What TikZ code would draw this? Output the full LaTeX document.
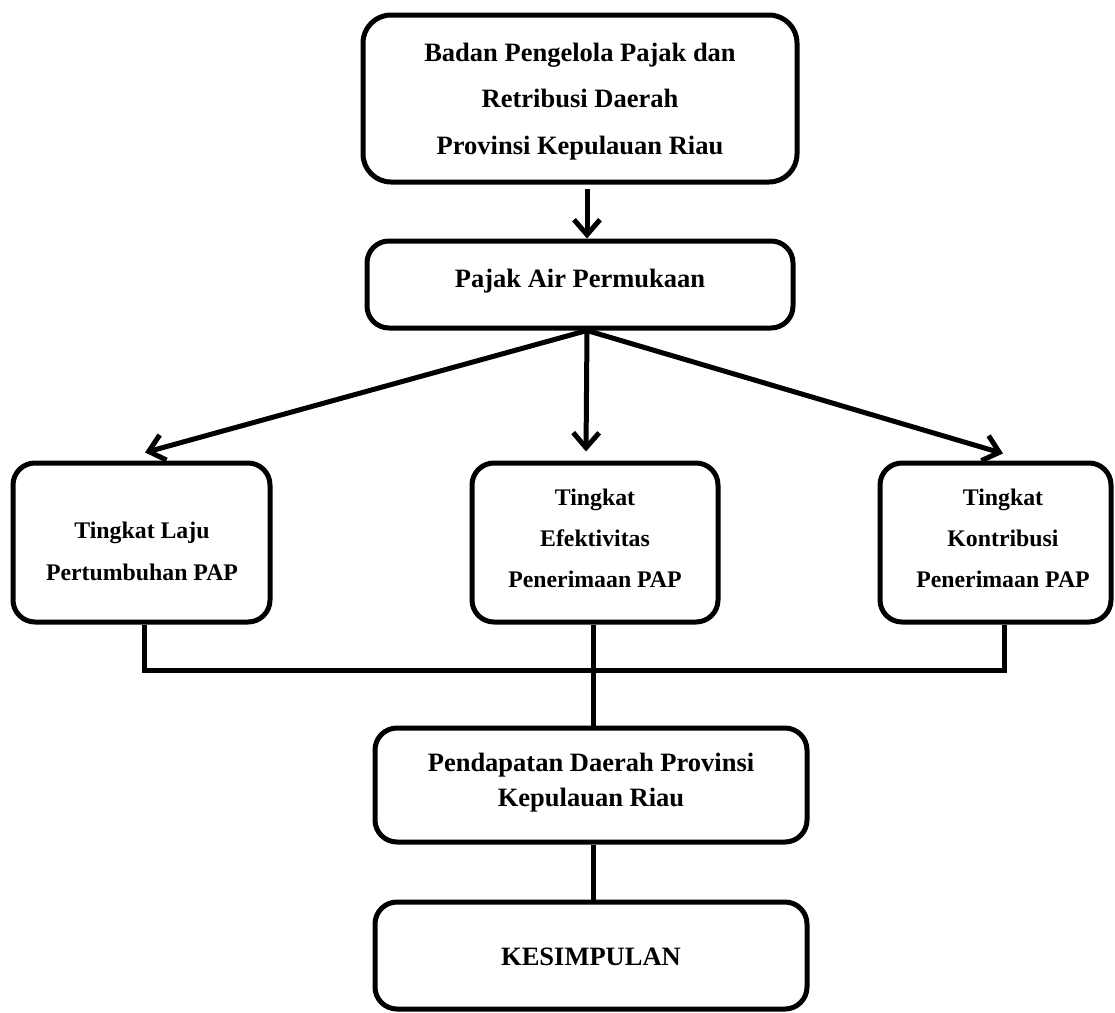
\documentclass[tikz,border=0pt]{standalone}
\usepackage{fontspec}
\setmainfont{Liberation Serif}
\usetikzlibrary{arrows.meta}
\begin{document}
\tikzset{
  box/.style={draw, line width=5pt, rounded corners=22pt, inner sep=0pt},
  big/.style={font=\bfseries\fontsize{26.5}{30}\selectfont, anchor=base, inner sep=0pt},
  small/.style={font=\bfseries\fontsize{23.8}{28}\selectfont, anchor=base, inner sep=0pt},
  arr/.style={line width=5pt, -{Straight Barb[length=15pt,width=26pt]}},
  link/.style={line width=5pt},
}
\begin{tikzpicture}[x=1pt,y=-1pt]
\useasboundingbox (0,0) rectangle (1115,1012);
% boxes
\node[box, rounded corners=28pt, minimum width=434pt, minimum height=167pt] (top) at (580,98.5) {};
\node[box, minimum width=426pt, minimum height=87pt] (pajak) at (580,284.5) {};
\node[box, minimum width=257pt, minimum height=159pt] (lft) at (141.5,542.5) {};
\node[box, minimum width=246pt, minimum height=159pt] (mid) at (595,542.5) {};
\node[box, minimum width=231pt, minimum height=159pt] (rgt) at (995.5,542.5) {};
\node[box, minimum width=432pt, minimum height=114pt] (pend) at (591,785) {};
\node[box, minimum width=432pt, minimum height=107pt] (kes) at (591,955.5) {};
% texts
\node[big] (t1) at (580,61.7) {Badan Pengelola Pajak dan};
\node[big] (t2) at (580,107.5) {Retribusi Daerah};
\node[big] (t3) at (580,154) {Provinsi Kepulauan Riau};
\node[big] (p1) at (580,287) {Pajak Air Permukaan};
\node[small] (l1) at (142,538.3) {Tingkat Laju};
\node[small] (l2) at (142,580.7) {Pertumbuhan PAP};
\node[small] (m1) at (595,505) {Tingkat};
\node[small] (m2) at (595,546) {Efektivitas};
\node[small] (m3) at (595,587.3) {Penerimaan PAP};
\node[small] (r1) at (1003,505) {Tingkat};
\node[small] (r2) at (1003,546) {Kontribusi};
\node[small] (r3) at (1003,587.3) {Penerimaan PAP};
\node[big] (d1) at (591,771.7) {Pendapatan Daerah Provinsi};
\node[big] (d2) at (591,806.7) {Kepulauan Riau};
\node[big] (k1) at (591,965) {KESIMPULAN};
% arrows
\draw[arr] ([xshift=7pt,yshift=-4pt]top.south) -- ([xshift=7pt]pajak.north);
\draw[arr] ([xshift=7pt]pajak.south) -- ([xshift=3.5pt,yshift=8pt]lft.north);
\draw[arr] ([xshift=7pt]pajak.south) -- ([xshift=-9pt,yshift=9pt]mid.north);
\draw[arr] ([xshift=7pt]pajak.south) -- ([xshift=7.5pt,yshift=7pt]rgt.north);
% bus lines
\coordinate (busL) at (144,670);
\coordinate (busR) at (1004,670);
\coordinate (trunk) at (593,670);
\draw[link] (lft.south -| busL) -- (busL) -- (busR) -- (rgt.south -| busR);
\draw[link] (mid.south -| trunk) -- (trunk) -- (pend.north -| trunk);
\draw[link] (pend.south -| trunk) -- (kes.north -| trunk);
\end{tikzpicture}
\end{document}
